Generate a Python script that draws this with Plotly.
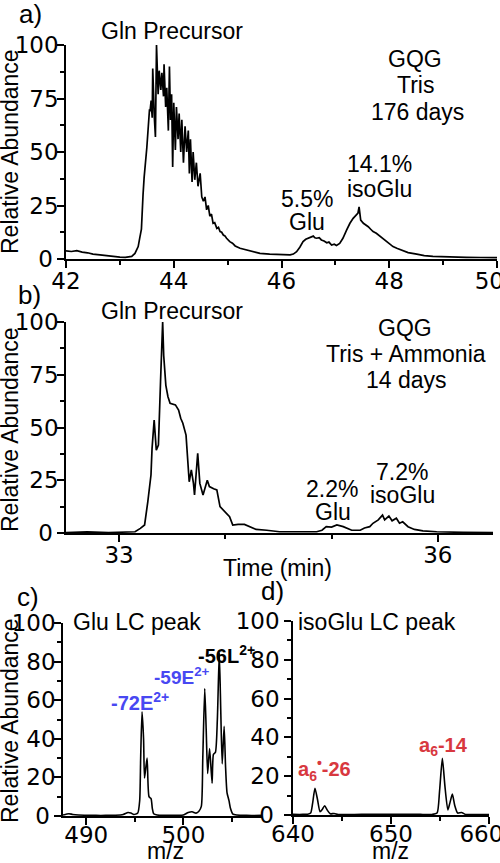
import plotly.graph_objects as go

# ---------------- data ----------------
# Panel a: GQG, Tris, 176 days  (time in min, relative abundance)
a_time = [42.00, 42.10, 42.20, 42.30, 42.40, 42.50, 42.63, 42.75, 42.88, 43.00,
          43.10, 43.19, 43.22, 43.28, 43.34, 43.37, 43.40, 43.43, 43.45, 43.50,
          43.53, 43.55, 43.56, 43.58, 43.60, 43.61, 43.64, 43.66, 43.68, 43.71,
          43.73, 43.76, 43.78, 43.81, 43.82, 43.85, 43.87, 43.90, 43.92, 43.94,
          43.96, 43.98, 44.00, 44.03, 44.05, 44.08, 44.10, 44.13, 44.15, 44.18,
          44.21, 44.24, 44.27, 44.29, 44.31, 44.34, 44.36, 44.39, 44.42, 44.45,
          44.49, 44.52, 44.55, 44.58, 44.61, 44.64, 44.67, 44.70, 44.73, 44.76,
          44.80, 44.83, 44.86, 44.89, 44.92, 44.95, 44.98, 45.04, 45.09, 45.14,
          45.23, 45.35, 45.48, 45.60, 45.78, 45.97, 46.16, 46.22, 46.28, 46.34,
          46.40, 46.45, 46.50, 46.56, 46.59, 46.62, 46.65, 46.70, 46.74, 46.79,
          46.84, 46.88, 46.93, 46.98, 47.02, 47.08, 47.14, 47.21, 47.27, 47.33,
          47.39, 47.42, 47.44, 47.47, 47.52, 47.56, 47.61, 47.66, 47.70, 47.76,
          47.80, 47.85, 47.89, 47.95, 48.01, 48.07, 48.14, 48.25, 48.35, 48.51,
          48.65, 48.81, 49.00, 49.20, 49.43, 49.70, 50.00]
a_vals = [3.8, 3.5, 3.9, 3.2, 2.9, 2.3, 1.9, 1.5, 1.1, 0.9,
          0.8, 0.9, 1.2, 2.6, 5.8, 10, 14, 30, 38, 52,
          66, 70, 69, 74, 66, 89, 66, 57, 100, 77,
          88, 79, 87, 76, 91, 71, 80, 60, 90, 65,
          77, 43, 73, 51, 71, 56, 68, 50, 65, 45,
          62, 50, 60, 40, 56, 36, 50, 37, 45, 34,
          40, 29, 27, 29, 23, 25, 20, 21, 16.7, 17,
          14.3, 14.8, 12.8, 12.5, 11.2, 10.8, 9.7, 8.1, 7.4, 6.1,
          5.0, 4.2, 3.4, 2.6, 2.3, 2.0, 1.9, 2.3, 3.4, 5.5,
          8.1, 9.2, 9.7, 10.4, 10.7, 9.9, 9.7, 10.0, 8.9, 8.4,
          7.6, 7.9, 6.5, 6.9, 6.3, 7.3, 9.7, 13.6, 16.7, 19.0,
          20.6, 21.5, 24.4, 18.2, 16.7, 16.0, 15.1, 13.8, 12.8, 12.0,
          11.2, 10.5, 9.7, 8.2, 7.0, 5.8, 5.0, 3.8, 3.0, 2.3,
          1.6, 1.2, 1.0, 0.9, 0.8, 0.7, 0.6]

# Panel b: GQG, Tris + Ammonia, 14 days
b_time = [32.50, 32.70, 32.90, 33.00, 33.10, 33.15, 33.20, 33.24, 33.27, 33.30,
          33.31, 33.33, 33.35, 33.37, 33.39, 33.41, 33.42, 33.44, 33.46, 33.48,
          33.53, 33.56, 33.58, 33.60, 33.63, 33.64, 33.66, 33.68, 33.70, 33.71,
          33.74, 33.76, 33.79, 33.83, 33.85, 33.89, 33.92, 33.95, 34.00, 34.04,
          34.07, 34.12, 34.18, 34.23, 34.29, 34.39, 34.51, 34.67, 34.86, 34.91,
          34.95, 35.00, 35.05, 35.11, 35.19, 35.27, 35.31, 35.36, 35.39, 35.44,
          35.48, 35.50, 35.54, 35.57, 35.61, 35.64, 35.67, 35.72, 35.78, 35.86,
          35.99, 36.24, 36.52]
b_vals = [0.2, 0.5, 0.2, 0.3, 0.3, 0.6, 2.2, 3.8, 14.8, 27.5,
          40, 53.5, 39.3, 41.7, 71.7, 100, 84, 70, 64.6, 61.5,
          60.7, 58.3, 54.4, 52, 46.4, 37, 24.3, 29.9, 23.5, 18,
          37.8, 23.5, 18, 25, 22, 21, 20.4, 12.5, 10, 7.7,
          3.8, 4.1, 4.1, 3.0, 1.7, 1.3, 0.6, 0.6, 0.6, 1.3,
          3.0, 2.8, 3.8, 3.0, 1.3, 1.3, 2.4, 3.0, 4.6, 6.2,
          8.5, 6.2, 8.0, 5.8, 7.0, 4.6, 5.3, 3.0, 1.7, 1.0,
          0.6, 0.3, 0.2]

# Panel c: Glu LC peak mass spectrum
c_mz = [487.6, 488.2, 488.6, 489.2, 490.0, 491.0, 492.0, 493.0, 493.8, 494.3,
        494.6, 494.9, 495.3, 495.5, 495.6, 495.74, 495.9, 496.0, 496.26, 496.46,
        496.67, 496.8, 496.94, 497.3, 498.0, 499.0, 500.0, 500.5, 500.9, 501.3,
        501.6, 501.85, 502.0, 502.2, 502.35, 502.5, 502.7, 502.96, 503.1, 503.3,
        503.5, 503.7, 503.85, 504.0, 504.2, 504.35, 504.5, 504.7, 504.85, 505.1,
        505.5, 506.5, 508.1]
c_vals = [0.5, 1.2, 0.8, 0.5, 0.4, 0.3, 0.3, 0.4, 0.8, 1.8,
          1.5, 0.8, 1.5, 8, 30, 54, 40, 19.7, 30, 10,
          9, 4, 1.2, 0.5, 0.3, 0.4, 0.5, 1.8, 2.2, 1.5,
          2.5, 5, 30, 66, 45, 22, 35, 17, 32, 33,
          50, 84.5, 55, 27, 46.5, 25, 12, 8, 4, 1.0,
          0.5, 0.3, 0.3]

# Panel d: isoGlu LC peak mass spectrum
d_mz = [640.0, 641.0, 641.5, 641.8, 642.0, 642.24, 642.5, 642.76, 643.0, 643.23,
        643.5, 643.8, 644.2, 644.6, 645.5, 647.0, 648.5, 650.0, 651.5, 653.0,
        654.2, 654.7, 654.95, 655.24, 655.5, 655.8, 656.0, 656.26, 656.5, 656.8,
        657.2, 657.6, 658.5, 660.0]
d_vals = [0.3, 0.3, 0.4, 1.0, 6, 13.8, 8, 1.7, 3, 4.8,
          2.5, 0.6, 0.8, 0.3, 0.2, 0.3, 0.4, 0.3, 0.4, 0.3,
          0.3, 1.0, 12, 29.2, 15, 2.6, 6, 10.8, 5, 1.0,
          1.3, 0.3, 0.2, 0.2]

a_xticks = [42, 44, 46, 48, 50]
a_xlabels = ["42", "44", "46", "48", "50\u2002\u2006"]
b_xticks = [33, 36]
c_xticks = [490, 500]
d_xticks = [640, 650, 660]
d_xlabels = ["640", "650", "660\u2002\u2006"]
chrom_yticks = [0, 25, 50, 75, 100]
chrom_ylabels = ["0\u2005", "25", "50", "75", "100"]
ms_yticks = [0, 20, 40, 60, 80, 100]
ms_ylabels = ["0\u2005", "20", "40", "60", "80", "100"]

# ---------------- figure ----------------
W, H = 500, 863
FONT = "Liberation Sans, Arial, sans-serif"
TICKFONT = "DejaVu Sans, sans-serif"
BLUE = "#4848f2"
RED = "#d8383f"


def px(x):
    return x / W


def py(y):
    return 1 - y / H


fig = go.Figure()
line = dict(color="black", width=1.7)
fig.add_trace(go.Scatter(x=a_time, y=a_vals, mode="lines", line=line, xaxis="x", yaxis="y"))
fig.add_trace(go.Scatter(x=b_time, y=b_vals, mode="lines", line=line, xaxis="x2", yaxis="y2"))
fig.add_trace(go.Scatter(x=c_mz, y=c_vals, mode="lines",
                         line=dict(color="black", width=1.6, shape="spline", smoothing=0.6),
                         xaxis="x3", yaxis="y3"))
fig.add_trace(go.Scatter(x=d_mz, y=d_vals, mode="lines",
                         line=dict(color="black", width=1.6, shape="spline", smoothing=0.6),
                         xaxis="x4", yaxis="y4"))


def ax(**kw):
    base = dict(showline=True, linecolor="black", linewidth=1.5, ticks="outside", ticklen=7,
                tickwidth=1.5, tickcolor="black", showgrid=False, zeroline=False,
                tickfont=dict(size=23, family=TICKFONT, color="black"), tickmode="array",
                fixedrange=True, automargin=False, ticklabeloverflow="allow")
    base.update(kw)
    return base


def minor(**kw):
    m = dict(ticks="outside", ticklen=4, tickwidth=1.5, tickcolor="black", showgrid=False)
    m.update(kw)
    return m


fig.update_layout(
    width=W, height=H, margin=dict(l=0, r=0, t=0, b=0, autoexpand=False),
    paper_bgcolor="white", plot_bgcolor="white", showlegend=False,
    font=dict(family=FONT, size=23, color="black"),
    xaxis=ax(domain=[px(66), px(497)], range=[42, 50], tickvals=a_xticks, ticktext=a_xlabels,
             anchor="y", ticklabelstandoff=-6,
             minor=minor(tickmode="array", tickvals=[43, 45, 47, 49])),
    yaxis=ax(domain=[py(259), py(45)], range=[0, 100], tickvals=chrom_yticks,
             ticktext=chrom_ylabels, anchor="x", ticklabelstandoff=-6,
             minor=minor(tickmode="array", tickvals=[12.5, 37.5, 62.5, 87.5])),
    xaxis2=ax(domain=[px(66), px(493)], range=[32.5, 36.52], tickvals=b_xticks, anchor="y2",
              ticklabelstandoff=-6,
              minor=minor(tickmode="array", tickvals=[34, 35])),
    yaxis2=ax(domain=[py(533), py(322)], range=[0, 100], tickvals=chrom_yticks,
              ticktext=chrom_ylabels, anchor="x2", ticklabelstandoff=-6,
              minor=minor(tickmode="array", tickvals=[12.5, 37.5, 62.5, 87.5])),
    xaxis3=ax(domain=[px(63), px(262)], range=[487.6, 508.1], tickvals=c_xticks, anchor="y3",
              ticklabelstandoff=-9,
              minor=minor(tickmode="array", tickvals=[495, 505])),
    yaxis3=ax(domain=[py(816), py(623)], range=[0, 100], tickvals=ms_yticks,
              ticktext=ms_ylabels, anchor="x3", ticklabelstandoff=-6,
              minor=minor(tickmode="array", tickvals=[10, 30, 50, 70, 90])),
    xaxis4=ax(domain=[px(293), px(489)], range=[640, 660], tickvals=d_xticks, ticktext=d_xlabels,
              anchor="y4", ticklabelstandoff=-9,
              minor=minor(tickmode="array", tickvals=[645, 655])),
    yaxis4=ax(domain=[py(815), py(621)], range=[0, 100], tickvals=ms_yticks,
              ticktext=ms_ylabels, anchor="x4", ticklabelstandoff=0,
              minor=minor(tickmode="array", tickvals=[10, 30, 50, 70, 90])),
)

annotations = []


def txt(text, x, y, size=23, color="black", xanchor="center", angle=0):
    annotations.append(dict(text=text, x=px(x), y=py(y), xref="paper", yref="paper",
                            showarrow=False, xanchor=xanchor, yanchor="middle",
                            textangle=angle, font=dict(size=size, color=color, family=FONT)))


# panel letters
txt("a)", 30, 14, size=26)
txt("b)", 29, 295, size=26)
txt("c)", 28, 597, size=26)
txt("d)", 272, 591, size=26)

# panel a labels
txt("Gln Precursor", 172, 31)
txt("GQG", 415, 59)
txt("Tris", 415, 85)
txt("176 days", 417, 112)
txt("14.1%", 379, 164)
txt("isoGlu", 379, 189)
txt("5.5%", 307, 199)
txt("Glu", 307, 222)

# panel b labels
txt("Gln Precursor", 172, 311)
txt("GQG", 405, 328)
txt("Tris + Ammonia", 406, 354)
txt("14 days", 406, 380)
txt("2.2%", 332, 489)
txt("Glu", 333, 512)
txt("7.2%", 402, 472)
txt("isoGlu", 402, 495)
txt("Time (min)", 277, 568)

# panel c/d labels
txt("Glu LC peak", 137, 622)
txt("isoGlu LC peak", 377, 622)
txt("m/z", 165, 851)
txt("m/z", 390, 851)

# y-axis titles
for yc in (152, 430, 721):
    txt("Relative Abundance", 10, yc, angle=-90)

# ion labels
txt("<b>-72E<sup>2+</sup></b>", 109, 701, size=20, color=BLUE, xanchor="left")
txt("<b>-59E<sup>2+</sup></b>", 152, 676, size=19, color=BLUE, xanchor="left")
txt("<b>-56L<sup>2+</sup></b>", 196, 654, size=20, color="black", xanchor="left")
txt("<b>a<sub>6</sub><sup>•</sup>-26</b>", 296, 769, size=20, color=RED, xanchor="left")
txt("<b>a<sub>6</sub>-14</b>", 417, 746, size=20, color=RED, xanchor="left")

fig.update_layout(annotations=annotations)

fig.write_html("out.html", config={"displayModeBar": False},
               post_script="document.body.style.margin='0px';document.body.style.padding='0px';")
